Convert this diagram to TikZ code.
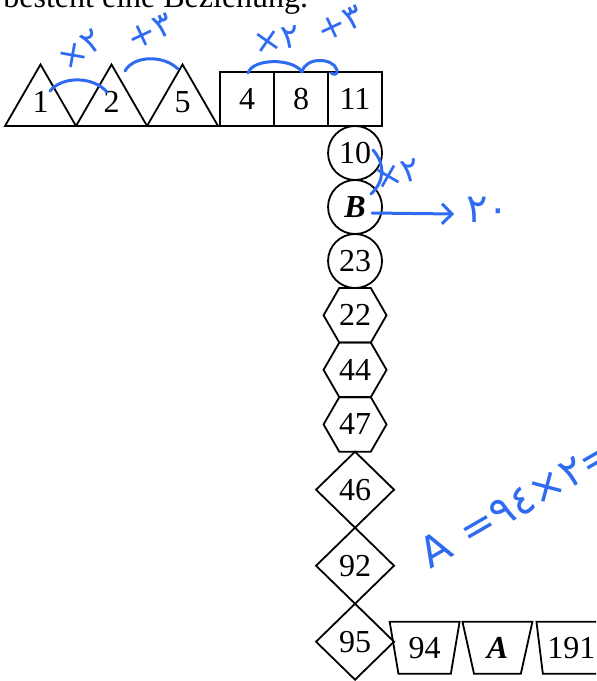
\documentclass[tikz,border=0pt]{standalone}
\usepackage{fontspec}
\setmainfont{Liberation Serif}
\newfontfamily\handfont{DejaVu Sans}
\usetikzlibrary{arrows.meta,positioning,shapes.geometric}
\definecolor{ink}{HTML}{2F6BF0}

\begin{document}
\begin{tikzpicture}[x=.5pt,y=-.5pt,node distance=0pt,
 every node/.style={font=\fontsize{16}{19}\selectfont},
 sh/.style={draw,line width=.9pt,outer sep=0pt,inner sep=0pt},
 tri/.style={sh,regular polygon,regular polygon sides=3,minimum size=41pt},
 box/.style={sh,rectangle,minimum width=27pt,minimum height=27pt},
 ring/.style={sh,circle,minimum size=27pt},
 hexa/.style={sh,regular polygon,regular polygon sides=6,minimum size=31.5pt},
 rhomb/.style={sh,diamond,minimum width=39pt,minimum height=38pt},
 trap/.style={sh,trapezium,shape border rotate=180,trapezium left angle=76,trapezium right angle=76,
  trapezium stretches,minimum width=35pt,minimum height=26pt},
 pen/.style={draw=ink,line width=1.5pt,line cap=round,line join=round},
 note/.style={text=ink,font=\handfont\fontsize{17}{20}\selectfont,inner sep=0pt}]
\useasboundingbox (0,0) rectangle (596,681);
\clip (0,0) rectangle (596,681);
\node[anchor=base west,inner sep=0pt] (head) at (3,7) {besteht eine Beziehung.};
% obere Reihe
\node[tri,anchor=corner 2] (t1) at (5,126) {\raisebox{3.5pt}{1}};
\node[tri,anchor=corner 2] (t2) at (t1.corner 3) {\raisebox{3.5pt}{2}};
\node[tri,anchor=corner 2] (t5) at (t2.corner 3) {\raisebox{3.5pt}{5}};
\node[box,anchor=south west] (b4) at ([xshift=1pt]t5.corner 3) {4};
\node[box,right=of b4] (b8) {8};\node[box,right=of b8] (b11) {11};
% Kette nach unten
\node[ring,below=of b11] (c10) {10};\node[ring,below=of c10] (cB) {\textbf{\textit{B}}};
\node[ring,below=of cB] (c23) {23};
\node[hexa,below=of c23] (h22) {22};\node[hexa,below=of h22] (h44) {44};
\node[hexa,below=of h44] (h47) {47};
\node[rhomb,below=of h47] (d46) {46};\node[rhomb,below=of d46] (d92) {92};
\node[rhomb,below=of d92] (d95) {95};
% untere Reihe
\node[trap,right=of d95,yshift=-3pt] (p94) {94};
\node[trap,right=6.5pt of p94] (pA) {\textbf{\textit{A}}};
\node[trap,right=6.5pt of pA] (p191) {191};
% Notizen
\draw[pen] (50,91) .. controls (62,76) and (93,76) .. (107,92);
\draw[pen] (125,71) .. controls (134,55) and (164,55) .. (178,69);
\draw[pen] (248,73) .. controls (253,58) and (293,58) .. (302,72);
\draw[pen] (302,72) .. controls (305,57) and (333,57) .. (337,70) .. controls (338,75) and (334,75) .. (331,73);
\draw[pen] (373,150) .. controls (386,165) and (384,182) .. (371,194);
\node[note,rotate=35] (n1) at (80,50) {×٢};
\node[note,rotate=25] (n2) at (150,32) {+٣};
\node[note,rotate=10] (n3) at (277,40) {×٢};
\node[note,rotate=25] (n4) at (340,24) {+٣};
\node[note,rotate=15] (n5) at (397,174) {×٢};
\node[note,font=\handfont\fontsize{20}{24}\selectfont] (bval) at (488,210) {٢٠};
\draw[pen,-{Straight Barb[length=5pt,width=10pt]}] ([xshift=8.5pt,yshift=-3pt]cB.center) -- ([xshift=-6pt,yshift=-2pt]bval.west);
\node[note,font=\handfont\fontsize{21}{24}\selectfont,rotate=30,anchor=base west] (aval) at (430,570)
 {A\hspace{8pt}=\hbox{٩٤}\hbox{×}\hbox{٢}\hbox{=}\hbox{١٨٨}};
\end{tikzpicture}
\end{document}
